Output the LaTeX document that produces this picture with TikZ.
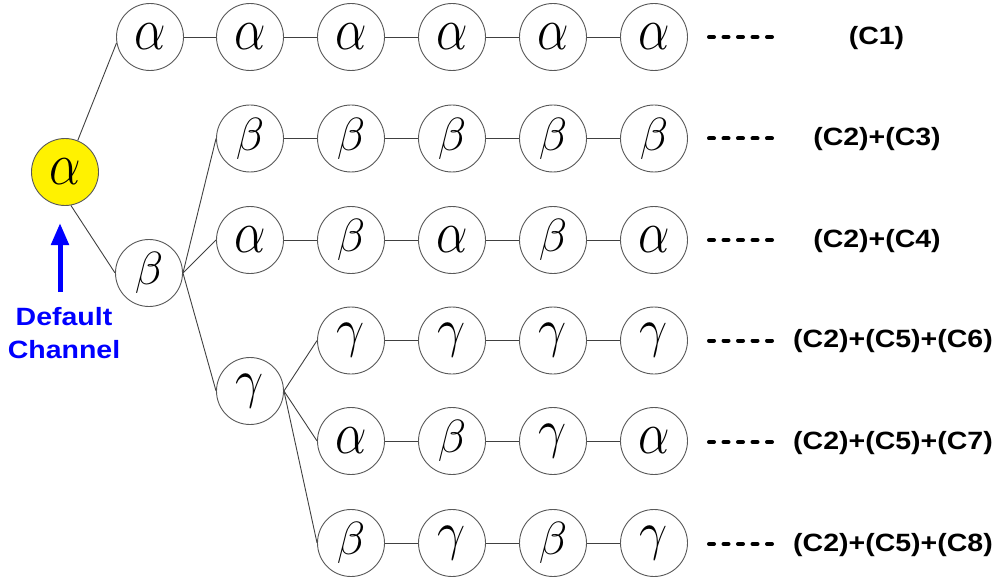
\RequirePackage{fix-cm}
\documentclass[tikz,border=0pt]{standalone}
\usepackage{fontspec}
\setmainfont{Liberation Sans}
\usepackage{graphicx}
\usetikzlibrary{arrows.meta}
\newcommand{\myal}{\scalebox{1}[1.2]{$\alpha$}}
\newcommand{\mybe}{\scalebox{0.93}{$\beta$}}
\newcommand{\myga}{\scalebox{1}[1.08]{$\gamma$}}
\newcommand{\mywide}[1]{\scalebox{1.14}[1]{#1}}
\tikzset{
  ch/.style={circle, draw=black!65, line width=0.9pt, minimum size=67pt, inner sep=0pt, fill=white,
     font=\fontsize{50}{50}\selectfont},
  lk/.style={draw=black!75, line width=0.9pt},
  lab/.style={font=\fontsize{25}{25}\selectfont\bfseries, inner sep=0pt},
  dashline/.style={draw=black, line width=4pt, line cap=round, dash pattern=on 5pt off 9.5pt},
}
\begin{document}
\begin{tikzpicture}[x=1pt,y=-1pt]
\useasboundingbox (0,0) rectangle (995,580);
% root and branch nodes
\node[ch, fill=yellow] (d) at (65,172) {\myal};
\node[ch] (b) at (149,273) {\mybe};
\node[ch] (g) at (250,391) {\myga};
% row 1
\node[ch] (r1c1) at (150,37) {\myal};
\node[ch] (r1c2) at (250,37) {\myal};
\node[ch] (r1c3) at (351,37) {\myal};
\node[ch] (r1c4) at (452,37) {\myal};
\node[ch] (r1c5) at (553,37) {\myal};
\node[ch] (r1c6) at (654,37) {\myal};
% row 2
\node[ch] (r2c2) at (250,138.5) {\mybe};
\node[ch] (r2c3) at (351,138.5) {\mybe};
\node[ch] (r2c4) at (452,138.5) {\mybe};
\node[ch] (r2c5) at (553,138.5) {\mybe};
\node[ch] (r2c6) at (654,138.5) {\mybe};
% row 3
\node[ch] (r3c2) at (250,240) {\myal};
\node[ch] (r3c3) at (351,240) {\mybe};
\node[ch] (r3c4) at (452,240) {\myal};
\node[ch] (r3c5) at (553,240) {\mybe};
\node[ch] (r3c6) at (654,240) {\myal};
% row 4
\node[ch] (r4c3) at (351,340.5) {\myga};
\node[ch] (r4c4) at (452,340.5) {\myga};
\node[ch] (r4c5) at (553,340.5) {\myga};
\node[ch] (r4c6) at (654,340.5) {\myga};
% row 5
\node[ch] (r5c3) at (351,441) {\myal};
\node[ch] (r5c4) at (452,441) {\mybe};
\node[ch] (r5c5) at (553,441) {\myga};
\node[ch] (r5c6) at (654,441) {\myal};
% row 6
\node[ch] (r6c3) at (351,543) {\mybe};
\node[ch] (r6c4) at (452,543) {\myga};
\node[ch] (r6c5) at (553,543) {\mybe};
\node[ch] (r6c6) at (654,543) {\myga};
% tree links
\draw[lk] (d.68) -- (r1c1.190);
\draw[lk] (d.-80) -- (b.west);
\draw[lk] (b.east) -- (r2c2.west);
\draw[lk] (b.east) -- (r3c2.west);
\draw[lk] (b.east) -- (g.west);
\draw[lk] (g.east) -- (r4c3.west);
\draw[lk] (g.east) -- (r5c3.west);
\draw[lk] (g.east) -- (r6c3.west);
% row links
\draw[lk] (r1c1) -- (r1c2) (r1c2) -- (r1c3) (r1c3) -- (r1c4) (r1c4) -- (r1c5) (r1c5) -- (r1c6);
\draw[lk] (r2c2) -- (r2c3) (r2c3) -- (r2c4) (r2c4) -- (r2c5) (r2c5) -- (r2c6);
\draw[lk] (r3c2) -- (r3c3) (r3c3) -- (r3c4) (r3c4) -- (r3c5) (r3c5) -- (r3c6);
\draw[lk] (r4c3) -- (r4c4) (r4c4) -- (r4c5) (r4c5) -- (r4c6);
\draw[lk] (r5c3) -- (r5c4) (r5c4) -- (r5c5) (r5c5) -- (r5c6);
\draw[lk] (r6c3) -- (r6c4) (r6c4) -- (r6c5) (r6c5) -- (r6c6);
% dashes
\foreach \i/\y in {1/37,2/138.5,3/240,4/340.5,5/442,6/544}{
  \coordinate (dl\i) at (709,\y);
  \coordinate (dr\i) at (772,\y);
  \draw[dashline] (dl\i) -- (dr\i);
}
% labels
\node[lab] (l1) at (876.5,38) {\mywide{(C1)}};
\node[lab] (l2) at (877,139.5) {\mywide{(C2)+(C3)}};
\node[lab] (l3) at (877,241) {\mywide{(C2)+(C4)}};
\node[lab] (l4) at (893,341.5) {\mywide{(C2)+(C5)+(C6)}};
\node[lab] (l5) at (893,443) {\mywide{(C2)+(C5)+(C7)}};
\node[lab] (l6) at (893,545) {\mywide{(C2)+(C5)+(C8)}};
% default channel
\coordinate (arb) at (60,292);
\coordinate (art) at (60,223);
\draw[blue, line width=5pt, -{Triangle[length=22pt,width=17pt]}] (arb) -- (art);
\node[lab, text=blue, align=center, font=\fontsize{25}{33}\selectfont\bfseries] (dc) at (64,333.5)
  {\mywide{Default}\\\mywide{Channel}};
\end{tikzpicture}
\end{document}
